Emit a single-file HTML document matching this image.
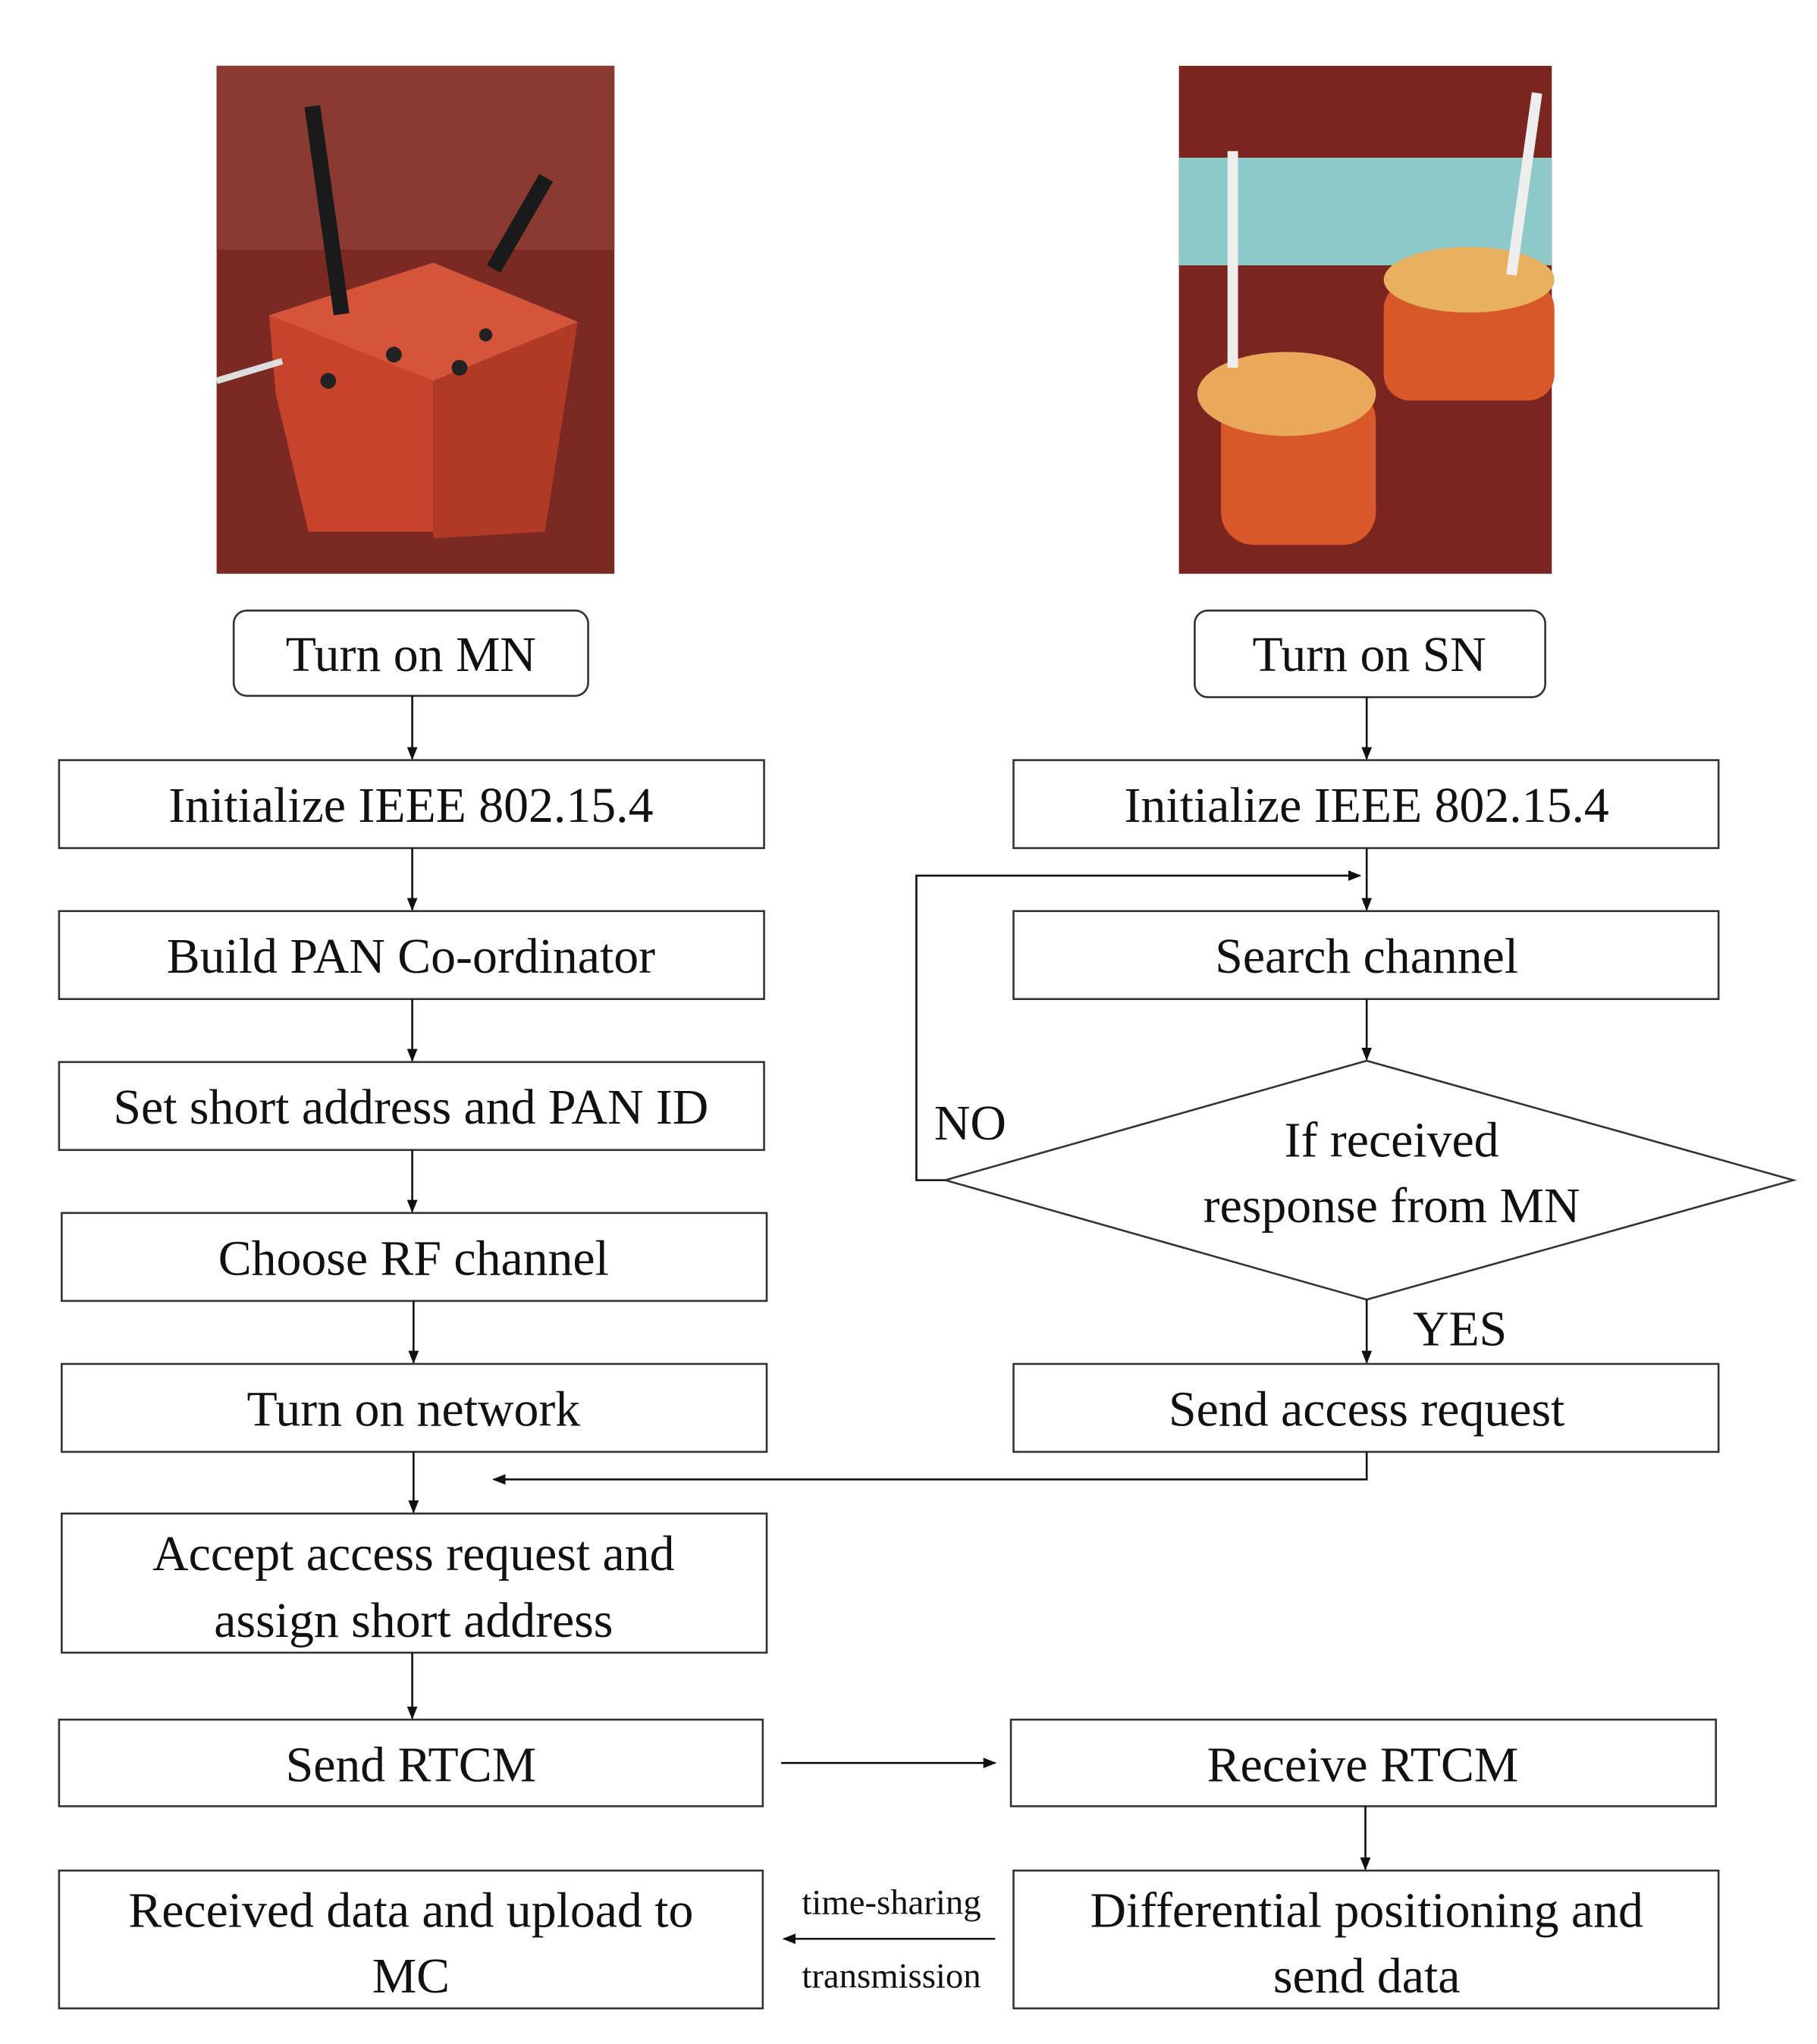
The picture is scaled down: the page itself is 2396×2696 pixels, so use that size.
<!DOCTYPE html>
<html><head><meta charset="utf-8"><style>
html,body{margin:0;padding:0;background:#fff}
svg{display:block}
text{font-family:"Liberation Serif",serif;fill:#111}
</style></head><body>
<svg width="2396" height="2696" viewBox="0 0 1384 1557" xmlns="http://www.w3.org/2000/svg">
<defs>
<marker id="a" markerWidth="10" markerHeight="10" refX="9" refY="5" orient="auto" markerUnits="userSpaceOnUse">
<path d="M0,1 L10,5 L0,9 Z" fill="#111"/></marker>
</defs>
<rect width="1384" height="1557" fill="#fff"/>
<!-- left photo -->
<rect x="165" y="50" width="303" height="387" fill="#7a2a22"/>
<rect x="165" y="50" width="303" height="140" fill="#8a3a30"/>
<polygon points="205,240 330,200 440,245 415,405 235,405 210,300" fill="#c8432c"/>
<polygon points="205,240 330,200 440,245 330,290" fill="#d4553a"/>
<polygon points="330,290 440,245 415,405 330,410" fill="#b03a26"/>
<rect x="243" y="80" width="12" height="160" fill="#1a1a1a" transform="rotate(-8 249 160)"/>
<rect x="390" y="130" width="12" height="80" fill="#1a1a1a" transform="rotate(30 396 170)"/>
<circle cx="300" cy="270" r="6" fill="#222"/><circle cx="250" cy="290" r="6" fill="#222"/>
<circle cx="350" cy="280" r="6" fill="#222"/><circle cx="370" cy="255" r="5" fill="#222"/>
<line x1="165" y1="290" x2="215" y2="275" stroke="#ddd" stroke-width="5"/>
<!-- right photo -->
<rect x="898" y="50" width="284" height="387" fill="#7a2520"/>
<rect x="898" y="120" width="284" height="82" fill="#8cc9c8"/>
<rect x="1054" y="215" width="130" height="90" rx="20" fill="#d8582a"/>
<ellipse cx="1119" cy="213" rx="65" ry="25" fill="#e9b060"/>
<rect x="930" y="295" width="118" height="120" rx="25" fill="#d8582a"/>
<ellipse cx="980" cy="300" rx="68" ry="32" fill="#eaa95a"/>
<rect x="935" y="115" width="8" height="165" fill="#eee"/>
<rect x="1157" y="70" width="8" height="140" fill="#eee" transform="rotate(8 1161 140)"/>
<!-- left column -->
<g fill="#fff" stroke="#333" stroke-width="1.5">
<rect x="178" y="465" width="270" height="65" rx="10"/>
<rect x="45" y="579" width="537" height="67"/>
<rect x="45" y="694" width="537" height="67"/>
<rect x="45" y="809" width="537" height="67"/>
<rect x="47" y="924" width="537" height="67"/>
<rect x="47" y="1039" width="537" height="67"/>
<rect x="47" y="1153" width="537" height="106"/>
<rect x="45" y="1310" width="536" height="66"/>
<rect x="45" y="1425" width="536" height="105"/>
<rect x="910" y="465" width="267" height="66" rx="10"/>
<rect x="772" y="579" width="537" height="67"/>
<rect x="772" y="694" width="537" height="67"/>
<polygon points="720,899 1041,808 1366,899 1041,990"/>
<rect x="772" y="1039" width="537" height="67"/>
<rect x="770" y="1310" width="537" height="66"/>
<rect x="772" y="1425" width="537" height="105"/>
</g>
<g stroke="#111" stroke-width="1.5" fill="none">
<line x1="314" y1="530" x2="314" y2="578" marker-end="url(#a)"/>
<line x1="314" y1="646" x2="314" y2="693" marker-end="url(#a)"/>
<line x1="314" y1="761" x2="314" y2="808" marker-end="url(#a)"/>
<line x1="314" y1="876" x2="314" y2="923" marker-end="url(#a)"/>
<line x1="315" y1="991" x2="315" y2="1038" marker-end="url(#a)"/>
<line x1="315" y1="1106" x2="315" y2="1152" marker-end="url(#a)"/>
<line x1="314" y1="1259" x2="314" y2="1309" marker-end="url(#a)"/>
<line x1="1041" y1="531" x2="1041" y2="578" marker-end="url(#a)"/>
<line x1="1041" y1="646" x2="1041" y2="693" marker-end="url(#a)"/>
<line x1="1041" y1="761" x2="1041" y2="807" marker-end="url(#a)"/>
<polyline points="720,899 698,899 698,667 1036,667" marker-end="url(#a)"/>
<line x1="1041" y1="990" x2="1041" y2="1038" marker-end="url(#a)"/>
<polyline points="1041,1106 1041,1127 376,1127" marker-end="url(#a)"/>
<line x1="595" y1="1343" x2="758" y2="1343" marker-end="url(#a)"/>
<line x1="1040" y1="1376" x2="1040" y2="1424" marker-end="url(#a)"/>
<line x1="758" y1="1477" x2="597" y2="1477" marker-end="url(#a)"/>
</g>
<g font-size="38" text-anchor="middle">
<text x="313" y="511">Turn on MN</text>
<text x="313" y="626">Initialize IEEE 802.15.4</text>
<text x="313" y="741">Build PAN Co-ordinator</text>
<text x="313" y="856">Set short address and PAN ID</text>
<text x="315" y="971">Choose RF channel</text>
<text x="315" y="1086">Turn on network</text>
<text x="315" y="1196">Accept access request and</text>
<text x="315" y="1247">assign short address</text>
<text x="313" y="1357">Send RTCM</text>
<text x="313" y="1468">Received data and upload to</text>
<text x="313" y="1518">MC</text>
<text x="1043" y="511">Turn on SN</text>
<text x="1041" y="626">Initialize IEEE 802.15.4</text>
<text x="1041" y="741">Search channel</text>
<text x="1060" y="881">If received</text>
<text x="1060" y="931">response from MN</text>
<text x="739" y="868">NO</text>
<text x="1112" y="1025">YES</text>
<text x="1041" y="1086">Send access request</text>
<text x="1038" y="1357">Receive RTCM</text>
<text x="1041" y="1468">Differential positioning and</text>
<text x="1041" y="1518">send data</text>
</g>
<g font-size="27" text-anchor="middle">
<text x="679" y="1458">time-sharing</text>
<text x="679" y="1514">transmission</text>
</g>
</svg>
</body></html>
